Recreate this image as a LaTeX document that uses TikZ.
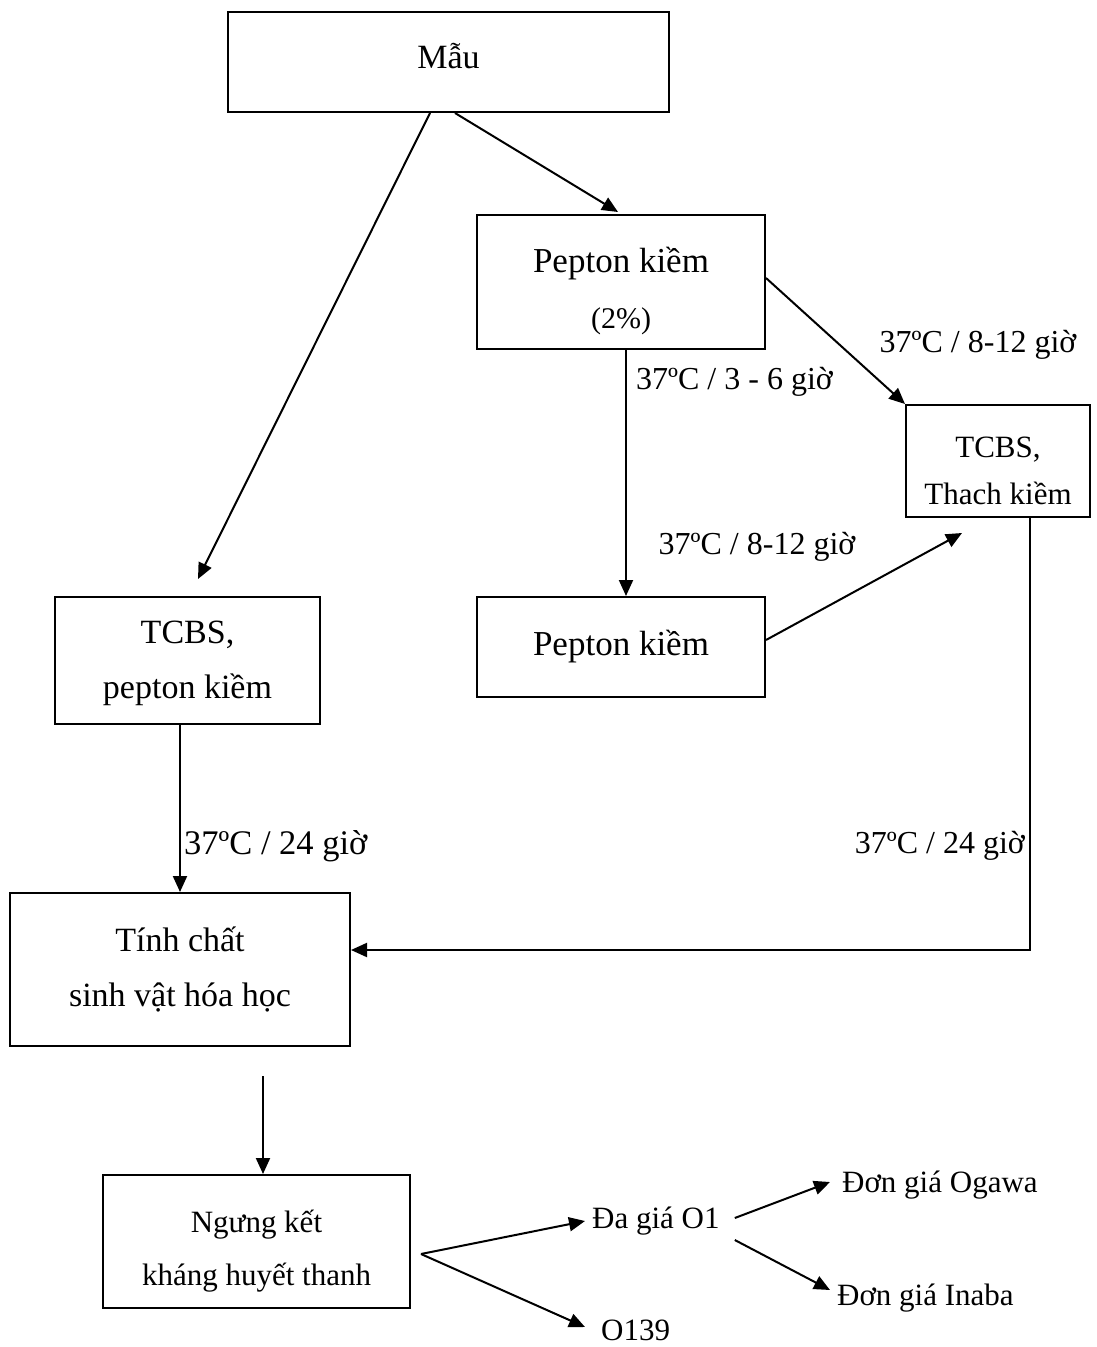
\documentclass[tikz,border=0pt]{standalone}
\usepackage{fontspec}
\setmainfont{Liberation Serif}
\usetikzlibrary{arrows.meta,calc}
\begin{document}
\begin{tikzpicture}[x=1pt,y=-1pt,
  box/.style={draw,line width=2pt,inner sep=0pt,align=center,font=\fontsize{34}{55}\selectfont},
  lbl/.style={inner sep=0pt,font=\fontsize{32}{38}\selectfont},
  leaf/.style={inner sep=0pt,font=\fontsize{31}{37}\selectfont},
  arr/.style={line width=2pt,-{Triangle[length=16pt,width=14pt]}}]
\useasboundingbox[fill=white] (0,0) rectangle (1096,1347);
% boxes
\node[box,minimum width=441pt,minimum height=100pt,text height=32pt,text depth=20pt] (mau) at (448.5,62) {Mẫu};
\node[box,minimum width=288pt,minimum height=134pt,text height=100pt,text depth=8pt,font=\fontsize{35}{56}\selectfont] (pep1) at (621,282)
  {Pepton kiềm\\{\fontsize{30}{36}\selectfont (2\%)}};
\node[box,minimum width=184pt,minimum height=112pt,text height=94pt,text depth=8pt,font=\fontsize{31}{47}\selectfont] (tcbst) at (998,461) {TCBS,\\Thach kiềm};
\node[box,minimum width=288pt,minimum height=100pt,font=\fontsize{35}{55}\selectfont] (pep2) at (621,647) {Pepton kiềm};
\node[box,minimum width=265pt,minimum height=127pt,text height=85pt,text depth=10pt] (tcbsp) at (187.5,660.5) {TCBS,\\pepton kiềm};
\node[box,minimum width=340pt,minimum height=153pt] (tinh) at (180,969.5) {Tính chất\\sinh vật hóa học};
\node[box,minimum width=307pt,minimum height=133pt,text height=95pt,text depth=8pt,font=\fontsize{31}{53}\selectfont] (ngung) at (256.5,1241.5) {Ngưng kết\\kháng huyết thanh};
% leaf texts
\node[leaf,anchor=west] (da) at (592,1221) {Đa giá O1};
\node[leaf,anchor=west] (o139) at (601,1330) {O139};
\node[leaf,anchor=west] (ogawa) at (842,1185) {Đơn giá Ogawa};
\node[leaf,anchor=west] (inaba) at (837,1298) {Đơn giá Inaba};
% labels
\node[lbl,anchor=west] (l1) at (636,382) {37ºC / 3 - 6 giờ};
\node[lbl] (l2) at (978,345) {37ºC / 8-12 giờ};
\node[lbl] (l3) at (757,547) {37ºC / 8-12 giờ};
\node[lbl,anchor=west,font=\fontsize{34.5}{40}\selectfont] (l4) at (184,846) {37ºC / 24 giờ};
\node[lbl,anchor=east] (l5) at (1025,846) {37ºC / 24 giờ};
% connectors
\draw[arr] ([xshift=-18.5pt]mau.south) -- ([xshift=10.5pt,yshift=17pt]tcbsp.north);
\draw[arr] ([xshift=6.5pt]mau.south) -- ([xshift=-3pt,yshift=2pt]pep1.north);
\draw[arr] ([yshift=4pt]pep1.east) -- (tcbst.north west);
\draw[arr] ([xshift=5pt]pep1.south) -- ([xshift=5pt]pep2.north);
\draw[arr] ([yshift=7pt]pep2.east) -- ([xshift=-36pt,yshift=-15pt]tcbst.south);
\draw[arr] ([xshift=32pt]tcbst.south) |- ([yshift=19.5pt]tinh.east);
\draw[arr] ([xshift=-7.5pt]tcbsp.south) -- (tinh.north);
\draw[arr] ([xshift=83pt,yshift=-29pt]tinh.south) -- ([xshift=6.5pt]ngung.north);
\draw[arr] ([xshift=10pt,yshift=-12.5pt]ngung.east) -- ([xshift=-7pt]da.west);
\draw[arr] ([xshift=10pt,yshift=-12.5pt]ngung.east) -- ([xshift=-16pt,yshift=3pt]o139.west);
\draw[arr] ([xshift=15pt,yshift=3pt]da.east) -- ([xshift=-12pt,yshift=3pt]ogawa.west);
\draw[arr] ([xshift=15pt,yshift=-19pt]da.east) -- ([xshift=-7pt,yshift=8pt]inaba.west);
\end{tikzpicture}
\end{document}
